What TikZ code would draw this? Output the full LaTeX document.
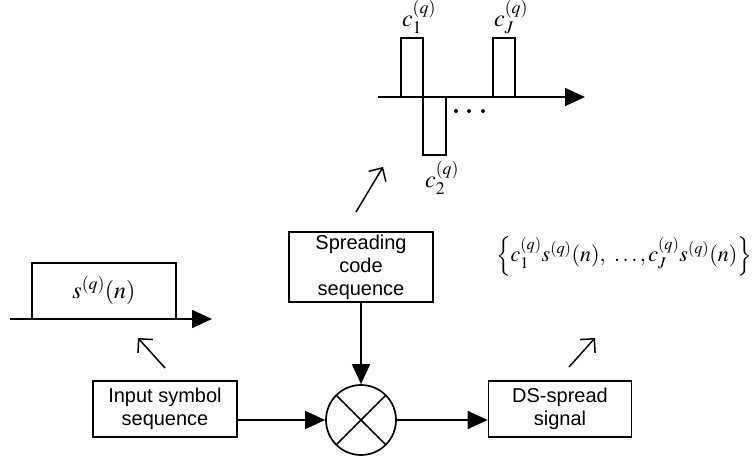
\documentclass[tikz,border=0pt]{standalone}
\usepackage{mathptmx}
\usepackage[no-math]{fontspec}
\setmainfont{Liberation Sans}
\usetikzlibrary{arrows.meta}
\begin{document}
\begin{tikzpicture}[x=1pt,y=-1pt,>={Triangle[length=20pt,width=18pt]},line width=1.7pt,
  blk/.style={draw,align=center,inner sep=0pt,font=\fontsize{20}{23}\selectfont},
  hint/.style={->,>={Straight Barb[length=10pt,width=20pt]},line width=1.5pt},
  lbl/.style={inner sep=0pt,font=\fontsize{24}{24}\selectfont}]
\useasboundingbox (0,0) rectangle (756,457);
\node[blk,minimum width=144pt,minimum height=56pt] (in) at (165,409) {Input symbol\\sequence};
\node[blk,minimum width=144pt,minimum height=70pt] (sc) at (361,267) {Spreading\\code\\sequence};
\node[draw,circle,minimum size=70pt,inner sep=0pt] (mx) at (361,420) {};
\draw (mx.45)--(mx.225) (mx.135)--(mx.315);
\node[blk,minimum width=143pt,minimum height=56pt] (ds) at (560,409) {DS-spread\\signal};
\draw[->] (in.east|-mx) -- (mx.west);
\draw[->] (mx.east) -- (ds.west|-mx);
\draw[->] (sc.south-|mx) -- (mx.north);

\draw[->] (10,319) -- (212,319);
\draw (32,319) |- (176,263) -- (176,319);
\node[lbl] (sn) at (104,290) {$s^{(q)}(n)$};
\draw[hint] (165,368) -- (138,338);

\draw[->] (378,97) -- (585,97);
\draw (401,97) |- (423,38) -- (423,155) -| (446,97);
\draw (493,97) |- (515,38) -- (515,97);
\foreach \x in {456,469,483}
    \fill (\x,111) circle (2pt);
\node[lbl] (c1) at (419,17) {$c_1^{(q)}$};
\node[lbl] (c2) at (442,178) {$c_2^{(q)}$};
\node[lbl] (cJ) at (511,17) {$c_J^{(q)}$};
\draw[hint] (356,212) -- (383,167);

\node[lbl,font=\fontsize{22}{22}\selectfont] (out) at (624,256) {$\Big\{c_1^{(q)}s^{(q)}(n),\ \ldots,c_J^{(q)}s^{(q)}(n)\Big\}$};
\draw[hint] (569,367) -- (595,338);
\end{tikzpicture}
\end{document}
